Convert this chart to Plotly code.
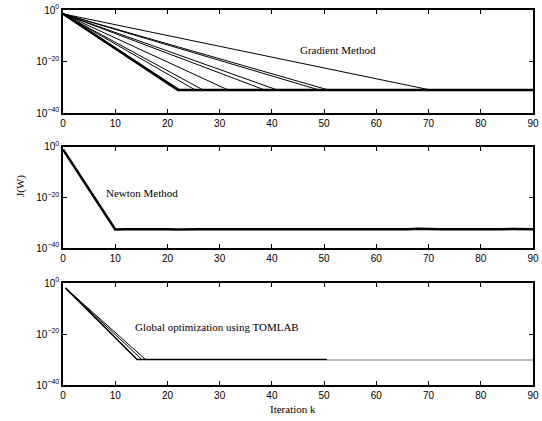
import plotly.graph_objects as go
from plotly.subplots import make_subplots

# ---- data (corner points of straight log-lines) ----
grad_start = 10 ** -1.5
grad_floor = 1e-31
grad_break_x = [22, 22.3, 25.3, 26.8, 31.6, 38.6, 41, 49, 50.8, 70.3]
grad_width = [2.5, 1.5, 1, 1, 1, 1, 1, 1, 1, 1]

newton_x = [0, 10, 12, 14, 16, 18, 20, 22, 24, 26, 28, 30, 32, 34, 36, 38, 40, 42, 44, 46,
            48, 50, 52, 54, 56, 58, 60, 62, 64, 66, 68, 70, 72, 74, 76, 78, 80, 82, 84, 86, 88, 90]
newton_log = [-1, -32.6, -32.55, -32.5, -32.3, -32.55, -32.5, -32.6, -32.45, -32.55, -32.5, -32.55,
              -32.45, -32.55, -32.5, -32.45, -32.55, -32.5, -32.55, -32.5, -32.55, -32.55, -32.5, -32.55,
              -32.5, -32.55, -32.5, -32.55, -32.45, -32.55, -32.35, -32.5, -32.55, -32.5, -32.55, -32.5,
              -32.55, -32.55, -32.5, -32.4, -32.5, -32.55]

glob_start_x = 0.5
glob_start = 10 ** -2
glob_floor = 1e-30
glob_break_x = [14.2, 15.1, 15.8]
glob_end_x = 50.5
glob_tail_x = [50.5, 90]
glob_tail_y = [10 ** -30.2, 10 ** -30.2]

x_ticks = [0, 10, 20, 30, 40, 50, 60, 70, 80, 90]
y_tickvals = [1, 1e-20, 1e-40]
y_ticktext = ["10<sup>0</sup>", "10<sup>−20</sup>", "10<sup>−40</sup>"]

fig = make_subplots(rows=3, cols=1, vertical_spacing=0.09)
fig.update_layout(
    yaxis=dict(domain=[0.725, 1.0]),
    yaxis2=dict(domain=[0.365, 0.635]),
    yaxis3=dict(domain=[0.0, 0.272]),
)

for bx, w in zip(grad_break_x, grad_width):
    fig.add_trace(go.Scatter(x=[0, bx, 90], y=[grad_start, grad_floor, grad_floor], mode="lines",
                             line=dict(color="black", width=w), showlegend=False), row=1, col=1)

fig.add_trace(go.Scatter(x=newton_x, y=[10 ** v for v in newton_log], mode="lines",
                         line=dict(color="black", width=2.5), showlegend=False), row=2, col=1)

fig.add_trace(go.Scatter(x=glob_tail_x, y=glob_tail_y, mode="lines",
                         line=dict(color="#777777", width=1), showlegend=False), row=3, col=1)
for i, bx in enumerate(glob_break_x):
    fig.add_trace(go.Scatter(x=[glob_start_x, bx, glob_end_x], y=[glob_start, glob_floor, glob_floor],
                             mode="lines", line=dict(color="black", width=1.5 if i == 0 else 1),
                             showlegend=False), row=3, col=1)

axis_font = dict(family="Liberation Sans", size=10, color="black")
for r in range(1, 4):
    fig.update_xaxes(range=[0, 90], tickvals=x_ticks, ticks="inside", ticklen=4, tickcolor="black",
                     showline=True, linecolor="black", linewidth=1.5, mirror="ticks",
                     showgrid=False, zeroline=False, tickfont=axis_font,
                     ticklabeloverflow="allow", row=r, col=1)
    fig.update_yaxes(type="log", range=[-40, 0], tickvals=y_tickvals, ticktext=y_ticktext,
                     ticks="inside", ticklen=4, tickcolor="black",
                     showline=True, linecolor="black", linewidth=1.5, mirror="ticks",
                     showgrid=False, zeroline=False, tickfont=axis_font, row=r, col=1)

serif = dict(family="Liberation Serif", size=11, color="black")
fig.add_annotation(x=52.7, y=-15.5, xref="x", yref="y", text="Gradient Method", showarrow=False, font=serif)
fig.add_annotation(x=15.1, y=-18.2, xref="x2", yref="y2", text="Newton Method", showarrow=False, font=serif)
fig.add_annotation(x=29.5, y=-17.3, xref="x3", yref="y3", text="Global optimization using TOMLAB",
                   showarrow=False, font=serif)
fig.add_annotation(x=0.49, y=-0.042, xref="paper", yref="paper", text="Iteration k", showarrow=False,
                   font=serif, yanchor="top")
fig.add_annotation(x=-0.11, y=0.53, xref="paper", yref="paper", text="J(W)", showarrow=False,
                   font=serif, textangle=-90)

fig.update_layout(width=542, height=421, margin=dict(l=63, r=3, t=10, b=36),
                  plot_bgcolor="white", paper_bgcolor="white")
fig.write_html("out.html", post_script="document.body.style.margin='0';",
               config={"displayModeBar": False})
